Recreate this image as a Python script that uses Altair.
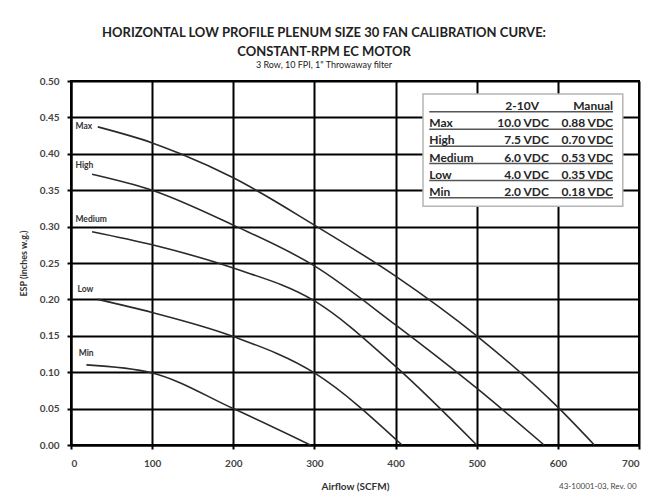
import altair as alt
import pandas as pd

# ---------------- data ----------------
curve_names = ["Max", "High", "Medium", "Low", "Min"]

max_airflow = [33, 100, 135, 200, 300, 400, 500, 600, 645]
max_esp = [0.437, 0.415, 0.400, 0.367, 0.302, 0.232, 0.150, 0.052, 0.0]

high_airflow = [26, 100, 200, 300, 400, 500, 583]
high_esp = [0.372, 0.350, 0.302, 0.246, 0.165, 0.078, 0.0]

medium_airflow = [26, 100, 200, 300, 400, 500]
medium_esp = [0.293, 0.275, 0.243, 0.198, 0.108, 0.0]

low_airflow = [33, 100, 200, 300, 408]
low_esp = [0.200, 0.182, 0.149, 0.099, 0.0]

min_airflow = [19, 100, 200, 295]
min_esp = [0.110, 0.099, 0.050, 0.0]

label_airflow = [5.5, 5.5, 5.5, 8, 9.5]
label_esp = [0.438, 0.384, 0.310, 0.214, 0.127]

table_header = ["", "2-10V", "Manual"]
table_rows = ["Max", "High", "Medium", "Low", "Min"]
table_volts = ["10.0 VDC", "7.5 VDC", "6.0 VDC", "4.0 VDC", "2.0 VDC"]
table_manual = ["0.88 VDC", "0.70 VDC", "0.53 VDC", "0.35 VDC", "0.18 VDC"]

x_ticks = [0, 100, 200, 300, 400, 500, 600, 700]
y_ticks = [0.0, 0.05, 0.1, 0.15, 0.2, 0.25, 0.3, 0.35, 0.4, 0.45, 0.5]

title_lines = ["HORIZONTAL LOW PROFILE PLENUM SIZE 30 FAN CALIBRATION CURVE:",
               "CONSTANT-RPM EC MOTOR"]
subtitle_text = "3 Row, 10 FPI, 1\" Throwaway filter"
footer_text = "43-10001-03, Rev. 00"

# ---------------- build tables ----------------
series = [max_airflow, high_airflow, medium_airflow, low_airflow, min_airflow]
values = [max_esp, high_esp, medium_esp, low_esp, min_esp]
rows = []
for name, xs_, ys_ in zip(curve_names, series, values):
    for i, (a, e) in enumerate(zip(xs_, ys_)):
        rows.append({"curve": name, "airflow": a, "esp": e, "order": i})
df = pd.DataFrame(rows)

labels_df = pd.DataFrame({"curve": curve_names, "airflow": label_airflow, "esp": label_esp})

# table layout (in data units of the chart)
box = {"x": 433.8, "x2": 680.0, "y": 0.482, "y2": 0.328}
col_name_x, col_volt_x, col_head_volt_x, col_manual_x = 441.5, 589.0, 556.0, 668.0
header_y, row0_y, row_step, underline_off = 0.4657, 0.4419, 0.0235, 0.0081

row_y = [row0_y - i * row_step for i in range(len(table_rows))]
tbl_df = pd.DataFrame({"name": table_rows, "volt": table_volts,
                       "manual": table_manual, "y": row_y})
head_df = pd.DataFrame({"text": table_header[1:], "x": [col_head_volt_x, col_manual_x],
                        "y": [header_y, header_y]})
uline_df = pd.DataFrame({"y": [header_y - underline_off] + [v - underline_off for v in row_y],
                         "x": col_name_x, "x2": col_manual_x})
box_df = pd.DataFrame([box])
tbl_df["xn"] = col_name_x
tbl_df["xv"] = col_volt_x
tbl_df["xm"] = col_manual_x

FONT = "Lato"
xs = alt.Scale(domain=[0, 700], nice=False, zero=False)
ys = alt.Scale(domain=[0, 0.5], nice=False)

axis_common = dict(grid=True, gridColor="#000", gridWidth=2, gridOpacity=1,
                   domainColor="#000", domainWidth=2, tickColor="#000", tickSize=4,
                   tickWidth=2, labelFont=FONT, labelFontSize=10, labelOverlap=False,
                   labelFontWeight="bold", labelColor="#444", titleFont=FONT,
                   titleFontWeight="bold", titleColor="#333")
x_axis = alt.Axis(values=x_ticks, title="Airflow (SCFM)", format="d",
                  labelPadding=9, titleFontSize=10, titlePadding=13, **axis_common)
y_axis = alt.Axis(values=y_ticks, title="ESP (inches w.g.)", format=".2f",
                  labelPadding=8, titleFontSize=9, titlePadding=11, **axis_common)


def X(field):
    return alt.X(field, type="quantitative", scale=xs, axis=x_axis)


def Y(field):
    return alt.Y(field, type="quantitative", scale=ys, axis=y_axis)


lines = alt.Chart(df).mark_line(color="#2a2a2a", strokeWidth=1.6, interpolate="monotone").encode(
    x=X("airflow"), y=Y("esp"), detail="curve:N", order="order:Q")

labels = alt.Chart(labels_df).mark_text(align="left", baseline="middle", font=FONT,
                                         fontSize=8.5, fontWeight="bold", color="#333").encode(
    x=X("airflow"), y=Y("esp"), text="curve:N")

box_layer = alt.Chart(box_df).mark_rect(fill="white", stroke="#b5b5b5", strokeWidth=1.5).encode(
    x=X("x"), x2="x2:Q", y=Y("y"), y2="y2:Q")

ulines = alt.Chart(uline_df).mark_rule(color="#555", strokeWidth=1.5).encode(
    x=X("x"), x2="x2:Q", y=Y("y"))

tbl_font = dict(font=FONT, fontSize=12, fontWeight="bold", color="#262626", baseline="middle")
names = alt.Chart(tbl_df).mark_text(align="left", **tbl_font).encode(
    x=X("xn"), y=Y("y"), text="name:N")
volts = alt.Chart(tbl_df).mark_text(align="right", **tbl_font).encode(
    x=X("xv"), y=Y("y"), text="volt:N")
manual = alt.Chart(tbl_df).mark_text(align="right", **tbl_font).encode(
    x=X("xm"), y=Y("y"), text="manual:N")
head_c = alt.Chart(head_df.iloc[[0]]).mark_text(align="center", **tbl_font).encode(
    x=X("x"), y=Y("y"), text="text:N")
head_r = alt.Chart(head_df.iloc[[1]]).mark_text(align="right", **tbl_font).encode(
    x=X("x"), y=Y("y"), text="text:N")

footer = alt.Chart(pd.DataFrame({"t": [footer_text]})).mark_text(
    align="left", baseline="middle", font=FONT, fontSize=8, color="#444").encode(
    x=alt.value(488), y=alt.value(406), text="t:N")

chart = alt.layer(lines, labels, box_layer, ulines, names, volts, manual, head_c, head_r,
                  footer).properties(
    width=568, height=364,
    autosize=alt.AutoSizeParams(type="none"),
    padding={"left": 63, "top": 73, "right": 2, "bottom": 47},
    title=alt.TitleParams(text=title_lines, subtitle=subtitle_text, font=FONT, fontSize=13,
                          fontWeight="bold", color="#222", lineHeight=19, anchor="middle",
                          dx=-31, offset=6, subtitleFont=FONT, subtitleFontSize=9,
                          subtitleColor="#222", subtitlePadding=2),
).configure(background="white").configure_view(stroke="#000", strokeWidth=2)

chart.save("out.html", embed_options={"renderer": "svg", "actions": False})
